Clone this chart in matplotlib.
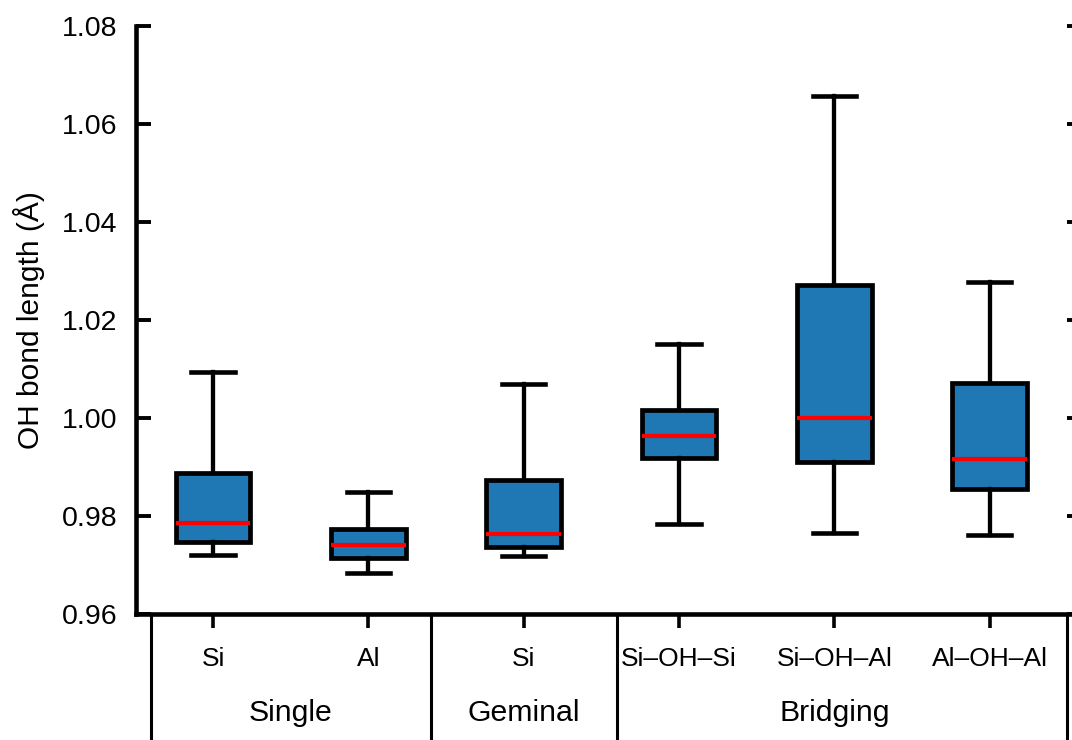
import matplotlib
matplotlib.use("Agg")
import matplotlib.pyplot as plt
import matplotlib.transforms as mtransforms

plt.rcParams['font.family'] = ['Liberation Sans', 'DejaVu Sans']

# categories and groups
categories = ["Si", "Al", "Si", "Si\u2013OH\u2013Si", "Si\u2013OH\u2013Al", "Al\u2013OH\u2013Al"]
groups = ["Single", "Geminal", "Bridging"]
group_centers = [1.5, 3.0, 5.0]
group_edges = [0.6, 2.4, 3.6, 6.5]

# box statistics
whislo = [0.9720, 0.9684, 0.9718, 0.9783, 0.9766, 0.9761]
q1 = [0.9747, 0.9714, 0.9737, 0.9918, 0.9911, 0.9855]
med = [0.9786, 0.9741, 0.9763, 0.9964, 1.0001, 0.9916]
q3 = [0.9888, 0.9774, 0.9874, 1.0016, 1.0272, 1.0071]
whishi = [1.0094, 0.9848, 1.0069, 1.0152, 1.0657, 1.0278]

stats = []
for i in range(len(categories)):
    stats.append(dict(whislo=whislo[i], q1=q1[i], med=med[i], q3=q3[i],
                      whishi=whishi[i], fliers=[], label=categories[i]))

W, H = 1072, 740
fig = plt.figure(figsize=(W / 100, H / 100), dpi=100)
left, right, top, bottom = 135.5, 1082, 26, 614
ax = fig.add_axes([left / W, (H - bottom) / H, (right - left) / W, (bottom - top) / H])

positions = list(range(1, len(categories) + 1))
ax.bxp(stats, positions=positions, widths=0.48, capwidths=0.28,
       patch_artist=True, showfliers=False,
       boxprops=dict(facecolor='#1f77b4', edgecolor='black', linewidth=3.4),
       whiskerprops=dict(color='black', linewidth=3.1),
       capprops=dict(color='black', linewidth=3.3),
       medianprops=dict(color='red', linewidth=3.0))

ax.set_xlim(0.5, 0.5 + (right - left) / 155.3)
ax.set_ylim(0.96, 1.08)
ax.set_yticks([0.96, 0.98, 1.00, 1.02, 1.04, 1.06, 1.08])
ax.set_yticklabels([f"{v:.2f}" for v in [0.96, 0.98, 1.00, 1.02, 1.04, 1.06, 1.08]])
ax.set_xticks(positions)
ax.set_xticklabels(categories, fontsize=19)

for s in ['top', 'right']:
    ax.spines[s].set_visible(False)
for s in ['left', 'bottom']:
    ax.spines[s].set_linewidth(3.3)

ax.tick_params(axis='y', direction='in', length=11, width=2.8, labelsize=20.5,
               pad=13, left=True, right=True)
ax.tick_params(axis='x', direction='out', length=10, width=2.6, pad=14)

ax.set_ylabel("OH bond length (\u00c5)", fontsize=21.5, labelpad=12)

trans = mtransforms.blended_transform_factory(ax.transData, ax.transAxes)
for xe in group_edges:
    ax.plot([xe, xe], [-0.004, -0.25], color='black', linewidth=2.2,
            transform=trans, clip_on=False)
for name, xc in zip(groups, group_centers):
    ax.text(xc, -0.168, name, transform=trans, ha='center', va='center',
            fontsize=21.8)

fig.savefig("out.png", dpi=100)
